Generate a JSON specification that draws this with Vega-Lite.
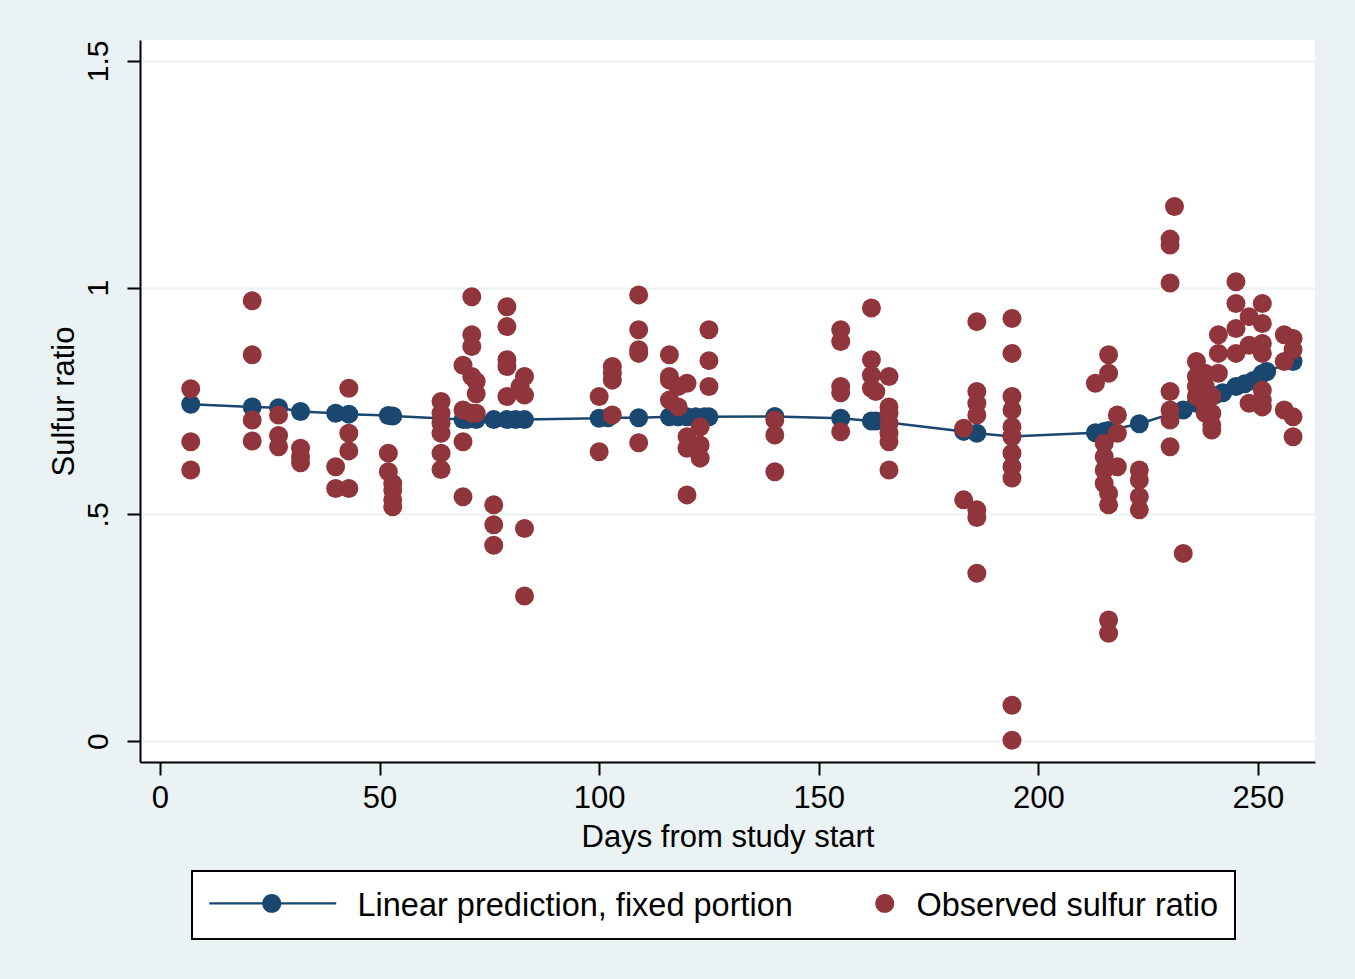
{
  "$schema": "https://vega.github.io/schema/vega-lite/v6.json",
  "width": 1175,
  "height": 722,
  "autosize": {"type": "none"},
  "padding": {"left": 140, "top": 40, "right": 40, "bottom": 217},
  "background": "#EAF2F3",
  "config": {
    "view": {"fill": "white", "stroke": null},
    "font": "Liberation Sans"
  },
  "datasets": {
    "pred": [
      {"day":7,"ratio":0.743},{"day":21,"ratio":0.737},{"day":27,"ratio":0.735},{"day":32,"ratio":0.727},{"day":40,"ratio":0.723},{"day":43,"ratio":0.721},{"day":52,"ratio":0.718},{"day":53,"ratio":0.717},{"day":69,"ratio":0.709},{"day":70,"ratio":0.709},{"day":72,"ratio":0.709},{"day":76,"ratio":0.709},{"day":79,"ratio":0.709},{"day":81,"ratio":0.709},{"day":83,"ratio":0.709},{"day":100,"ratio":0.712},{"day":102,"ratio":0.713},{"day":109,"ratio":0.713},{"day":116,"ratio":0.715},{"day":118,"ratio":0.715},{"day":120,"ratio":0.715},{"day":122,"ratio":0.715},{"day":124,"ratio":0.715},{"day":125,"ratio":0.715},{"day":140,"ratio":0.716},{"day":155,"ratio":0.712},{"day":162,"ratio":0.706},{"day":163,"ratio":0.706},{"day":183,"ratio":0.683},{"day":186,"ratio":0.679},{"day":194,"ratio":0.672},{"day":213,"ratio":0.68},{"day":215,"ratio":0.683},{"day":216,"ratio":0.685},{"day":223,"ratio":0.7},{"day":233,"ratio":0.73},{"day":236,"ratio":0.745},{"day":238,"ratio":0.755},{"day":240,"ratio":0.762},{"day":242,"ratio":0.768},{"day":245,"ratio":0.782},{"day":247,"ratio":0.788},{"day":249,"ratio":0.795},{"day":251,"ratio":0.81},{"day":252,"ratio":0.815},{"day":258,"ratio":0.837}
    ],
    "obs": [
      {"day":7,"ratio":0.777},{"day":7,"ratio":0.66},{"day":7,"ratio":0.598},
      {"day":21,"ratio":0.971},{"day":21,"ratio":0.852},{"day":21,"ratio":0.708},{"day":21,"ratio":0.662},
      {"day":27,"ratio":0.719},{"day":27,"ratio":0.674},{"day":27,"ratio":0.649},
      {"day":32,"ratio":0.646},{"day":32,"ratio":0.627},{"day":32,"ratio":0.614},
      {"day":40,"ratio":0.605},{"day":40,"ratio":0.557},
      {"day":43,"ratio":0.778},{"day":43,"ratio":0.679},{"day":43,"ratio":0.64},{"day":43,"ratio":0.557},
      {"day":52,"ratio":0.635},{"day":52,"ratio":0.594},
      {"day":53,"ratio":0.568},{"day":53,"ratio":0.554},{"day":53,"ratio":0.532},{"day":53,"ratio":0.517},
      {"day":64,"ratio":0.749},{"day":64,"ratio":0.723},{"day":64,"ratio":0.701},{"day":64,"ratio":0.679},{"day":64,"ratio":0.635},{"day":64,"ratio":0.599},
      {"day":69,"ratio":0.829},{"day":69,"ratio":0.73},{"day":69,"ratio":0.66},{"day":69,"ratio":0.539},
      {"day":71,"ratio":0.98},{"day":71,"ratio":0.896},{"day":71,"ratio":0.87},{"day":71,"ratio":0.804},{"day":71,"ratio":0.723},
      {"day":72,"ratio":0.793},{"day":72,"ratio":0.766},{"day":72,"ratio":0.723},
      {"day":76,"ratio":0.521},{"day":76,"ratio":0.477},{"day":76,"ratio":0.432},
      {"day":79,"ratio":0.958},{"day":79,"ratio":0.914},{"day":79,"ratio":0.841},{"day":79,"ratio":0.826},{"day":79,"ratio":0.76},
      {"day":82,"ratio":0.782},
      {"day":83,"ratio":0.804},{"day":83,"ratio":0.763},{"day":83,"ratio":0.469},{"day":83,"ratio":0.32},
      {"day":100,"ratio":0.76},{"day":100,"ratio":0.638},
      {"day":103,"ratio":0.826},{"day":103,"ratio":0.811},{"day":103,"ratio":0.796},{"day":103,"ratio":0.719},
      {"day":109,"ratio":0.984},{"day":109,"ratio":0.907},{"day":109,"ratio":0.863},{"day":109,"ratio":0.855},{"day":109,"ratio":0.658},
      {"day":116,"ratio":0.852},{"day":116,"ratio":0.804},{"day":116,"ratio":0.796},{"day":116,"ratio":0.752},
      {"day":118,"ratio":0.782},{"day":118,"ratio":0.737},
      {"day":120,"ratio":0.789},{"day":120,"ratio":0.671},{"day":120,"ratio":0.646},{"day":120,"ratio":0.543},
      {"day":123,"ratio":0.693},{"day":123,"ratio":0.653},{"day":123,"ratio":0.624},
      {"day":125,"ratio":0.907},{"day":125,"ratio":0.839},{"day":125,"ratio":0.782},
      {"day":140,"ratio":0.708},{"day":140,"ratio":0.675},{"day":140,"ratio":0.594},
      {"day":155,"ratio":0.907},{"day":155,"ratio":0.881},{"day":155,"ratio":0.782},{"day":155,"ratio":0.768},{"day":155,"ratio":0.682},
      {"day":162,"ratio":0.955},{"day":162,"ratio":0.841},{"day":162,"ratio":0.807},{"day":162,"ratio":0.778},
      {"day":163,"ratio":0.771},
      {"day":166,"ratio":0.804},{"day":166,"ratio":0.737},{"day":166,"ratio":0.723},{"day":166,"ratio":0.701},{"day":166,"ratio":0.679},{"day":166,"ratio":0.66},{"day":166,"ratio":0.598},
      {"day":183,"ratio":0.69},{"day":183,"ratio":0.532},
      {"day":186,"ratio":0.925},{"day":186,"ratio":0.771},{"day":186,"ratio":0.745},{"day":186,"ratio":0.719},{"day":186,"ratio":0.51},{"day":186,"ratio":0.493},{"day":186,"ratio":0.37},
      {"day":194,"ratio":0.932},{"day":194,"ratio":0.855},{"day":194,"ratio":0.76},{"day":194,"ratio":0.73},{"day":194,"ratio":0.693},{"day":194,"ratio":0.671},{"day":194,"ratio":0.635},{"day":194,"ratio":0.605},{"day":194,"ratio":0.58},{"day":194,"ratio":0.079},{"day":194,"ratio":0.002},
      {"day":213,"ratio":0.789},
      {"day":215,"ratio":0.657},{"day":215,"ratio":0.627},{"day":215,"ratio":0.598},{"day":215,"ratio":0.568},
      {"day":216,"ratio":0.852},{"day":216,"ratio":0.811},{"day":216,"ratio":0.546},{"day":216,"ratio":0.521},{"day":216,"ratio":0.267},{"day":216,"ratio":0.238},
      {"day":218,"ratio":0.719},{"day":218,"ratio":0.679},{"day":218,"ratio":0.605},
      {"day":223,"ratio":0.598},{"day":223,"ratio":0.576},{"day":223,"ratio":0.539},{"day":223,"ratio":0.51},
      {"day":230,"ratio":1.107},{"day":230,"ratio":1.094},{"day":230,"ratio":1.01},{"day":230,"ratio":0.771},{"day":230,"ratio":0.73},{"day":230,"ratio":0.708},{"day":230,"ratio":0.649},
      {"day":231,"ratio":1.179},
      {"day":233,"ratio":0.414},
      {"day":236,"ratio":0.837},{"day":236,"ratio":0.804},{"day":236,"ratio":0.782},{"day":236,"ratio":0.76},
      {"day":238,"ratio":0.811},{"day":238,"ratio":0.782},{"day":238,"ratio":0.737},{"day":238,"ratio":0.723},
      {"day":239.5,"ratio":0.76},{"day":239.5,"ratio":0.723},{"day":239.5,"ratio":0.697},{"day":239.5,"ratio":0.686},
      {"day":241,"ratio":0.896},{"day":241,"ratio":0.855},{"day":241,"ratio":0.811},
      {"day":245,"ratio":1.013},{"day":245,"ratio":0.965},{"day":245,"ratio":0.91},{"day":245,"ratio":0.855},
      {"day":248,"ratio":0.936},{"day":248,"ratio":0.873},{"day":248,"ratio":0.745},
      {"day":251,"ratio":0.965},{"day":251,"ratio":0.921},{"day":251,"ratio":0.877},{"day":251,"ratio":0.855},{"day":251,"ratio":0.774},{"day":251,"ratio":0.752},{"day":251,"ratio":0.737},
      {"day":256,"ratio":0.896},{"day":256,"ratio":0.837},{"day":256,"ratio":0.73},
      {"day":258,"ratio":0.888},{"day":258,"ratio":0.863},{"day":258,"ratio":0.715},{"day":258,"ratio":0.671}
    ]
  },
  "encoding": {
    "x": {
      "field": "day", "type": "quantitative",
      "scale": {"domain": [-4.55, 263], "nice": false, "zero": false},
      "axis": {
        "title": "Days from study start",
        "values": [0, 50, 100, 150, 200, 250],
        "grid": false,
        "domainColor": "black", "domainWidth": 2,
        "tickColor": "black", "tickWidth": 2, "tickSize": 13,
        "labelFontSize": 31, "labelColor": "black", "labelPadding": 8,
        "titleFontSize": 31, "titleFontWeight": "normal", "titleColor": "black", "titlePadding": 9
      }
    },
    "y": {
      "field": "ratio", "type": "quantitative",
      "scale": {"domain": [-0.046, 1.546], "nice": false, "zero": false},
      "axis": {
        "title": "Sulfur ratio",
        "values": [0, 0.5, 1, 1.5],
        "labelExpr": "datum.value == 0.5 ? '.5' : format(datum.value, '~g')",
        "grid": true, "gridColor": "#EAF2F3", "gridWidth": 2,
        "domainColor": "black", "domainWidth": 2,
        "tickColor": "black", "tickWidth": 2, "tickSize": 13,
        "labelAngle": 270, "labelAlign": "center", "labelBaseline": "bottom",
        "labelFontSize": 30, "labelColor": "black", "labelPadding": 14,
        "titleFontSize": 31, "titleFontWeight": "normal", "titleColor": "black", "titlePadding": 3
      }
    },
    "color": {
      "field": "series", "type": "nominal",
      "scale": {
        "domain": ["Linear prediction, fixed portion", "Observed sulfur ratio"],
        "range": ["#1A476F", "#90353B"]
      },
      "legend": {
        "title": null,
        "orient": "none",
        "legendX": 52,
        "legendY": 831,
        "direction": "horizontal",
        "columns": 2,
        "fillColor": "white",
        "strokeColor": "black",
        "padding": 16,
        "labelFontSize": 32.5,
        "labelColor": "black",
        "labelLimit": 700,
        "labelOffset": 117,
        "labelExpr": "datum.value == 'Observed sulfur ratio' ? datum.label + '\u00a0\u00a0\u00a0' : datum.label",
        "columnPadding": 0,
        "symbolSize": 900,
        "symbolOpacity": 1,
        "symbolStrokeWidth": 0,
        "symbolType": "circle",
        "encode": {
          "legend": {"update": {"strokeWidth": {"value": 2}}},
          "labels": {"update": {
            "dy": {"value": 3},
            "dx": {"signal": "datum.value == 'Observed sulfur ratio' ? -26 : 0"}
          }},
          "symbols": {
            "update": {
              "fill": {"scale": "color", "field": "value"},
              "shape": {"signal": "datum.value == 'Observed sulfur ratio' ? 'M4.4,0 A0.633,0.633 0 1,1 5.666,0 A0.633,0.633 0 1,1 4.4,0 Z' : 'M-1,-0.083 L7.467,-0.083 L7.467,0.083 L-1,0.083 Z M2.534,0 A0.633,0.633 0 1,1 3.8,0 A0.633,0.633 0 1,1 2.534,0 Z'"}
            }
          }
        }
      }
    }
  },
  "layer": [
    {
      "data": {"name": "pred"},
      "transform": [{"calculate": "'Linear prediction, fixed portion'", "as": "series"}],
      "mark": {"type": "line", "strokeWidth": 2.5}
    },
    {
      "data": {"name": "pred"},
      "transform": [{"calculate": "'Linear prediction, fixed portion'", "as": "series"}],
      "mark": {"type": "point", "shape": "circle", "filled": true, "size": 361, "opacity": 1, "strokeWidth": 0}
    },
    {
      "data": {"name": "obs"},
      "transform": [{"calculate": "'Observed sulfur ratio'", "as": "series"}],
      "mark": {"type": "point", "shape": "circle", "filled": true, "size": 361, "opacity": 1, "strokeWidth": 0}
    }
  ]
}
